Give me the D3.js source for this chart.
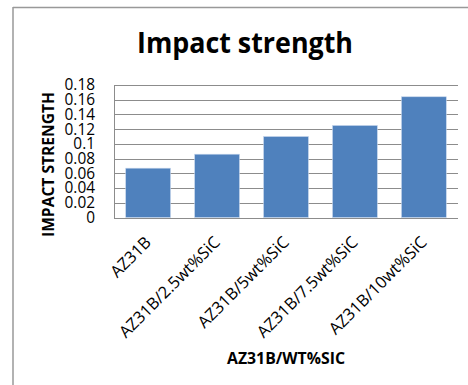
<!DOCTYPE html>
<html>
<head>
<meta charset="utf-8">
<script src="https://cdn.jsdelivr.net/npm/d3@7/dist/d3.min.js"></script>
<style>
  html, body { margin: 0; padding: 0; background: #fff; }
  svg { display: block; }
  text { font-family: "Open Sans", "Noto Sans", sans-serif; fill: #000; }
</style>
</head>
<body>
<svg id="chart" width="468" height="385"></svg>
<script>
// Impact strength per composition
const categories = ["AZ31B", "AZ31B/2.5wt%SiC", "AZ31B/5wt%SiC", "AZ31B/7.5wt%SiC", "AZ31B/10wt%SiC"];
const impactValues = [0.067, 0.086, 0.110, 0.125, 0.164];
const yTicks = [0, 0.02, 0.04, 0.06, 0.08, 0.1, 0.12, 0.14, 0.16, 0.18];
const yTickLabels = ["0", "0.02", "0.04", "0.06", "0.08", "0.1", "0.12", "0.14", "0.16", "0.18"];

const svg = d3.select("#chart");

// chart frame (top and left edges)
svg.append("line").attr("x1", 13).attr("x2", 468).attr("y1", 7.5).attr("y2", 7.5)
  .attr("stroke", "#999").attr("stroke-width", 1.5);
svg.append("line").attr("x1", 13).attr("x2", 13).attr("y1", 7).attr("y2", 385)
  .attr("stroke", "#999").attr("stroke-width", 1.5);

const plot = { left: 114, right: 458, top: 85, bottom: 217.5 };

const x = d3.scaleBand()
  .domain(categories)
  .range([plot.left, plot.right])
  .paddingInner(0.35)
  .paddingOuter(0.17);

const y = d3.scaleLinear()
  .domain([0, 0.18])
  .range([plot.bottom, plot.top]);

// horizontal gridlines
svg.append("g")
  .selectAll("line")
  .data(yTicks)
  .join("line")
  .attr("x1", plot.left).attr("x2", plot.right)
  .attr("y1", d => Math.round(y(d)) + 0.5).attr("y2", d => Math.round(y(d)) + 0.5)
  .attr("stroke", "#8c8c8c").attr("stroke-width", 1);

// vertical axis line
svg.append("line")
  .attr("x1", plot.left + 0.5).attr("x2", plot.left + 0.5)
  .attr("y1", Math.round(y(0.18)) + 0.5).attr("y2", Math.round(y(0)) + 0.5)
  .attr("stroke", "#8c8c8c");

// y tick labels
const yAxis = d3.axisLeft(y)
  .tickValues(yTicks)
  .tickFormat((d, i) => yTickLabels[i])
  .tickSize(0)
  .tickPadding(0);
const yg = svg.append("g").attr("transform", `translate(95,0)`).call(yAxis);
yg.select(".domain").remove();
yg.selectAll("text")
  .style("font-family", '"Open Sans", sans-serif')
  .style("font-size", "15.4px")
  .attr("fill", "#000");

// bars
svg.append("g")
  .selectAll("rect")
  .data(impactValues)
  .join("rect")
  .attr("x", (d, i) => x(categories[i]))
  .attr("width", x.bandwidth())
  .attr("y", d => y(d))
  .attr("height", d => y(0) - y(d))
  .attr("fill", "#4f81bd")
  .attr("stroke", "#c6d6ec")
  .attr("stroke-width", 0.6);

// x category labels, rotated
const xAxis = d3.axisBottom(x).tickSize(0).tickPadding(0);
const xg = svg.append("g").attr("transform", `translate(0,${plot.bottom})`).call(xAxis);
xg.select(".domain").remove();
xg.selectAll("text")
  .style("font-family", '"Open Sans", sans-serif')
  .style("font-size", "16.5px")
  .attr("fill", "#000")
  .attr("text-anchor", "end")
  .attr("y", 0).attr("dy", 0)
  .attr("transform", "translate(4,26) rotate(-45)");

// title
svg.append("text")
  .attr("x", 245).attr("y", 53)
  .attr("text-anchor", "middle")
  .attr("font-weight", "bold")
  .attr("font-size", 28)
  .attr("textLength", 216)
  .attr("lengthAdjust", "spacingAndGlyphs")
  .text("Impact strength");

// y axis title
svg.append("text")
  .attr("transform", "translate(54,164.5) rotate(-90)")
  .attr("text-anchor", "middle")
  .attr("font-weight", "bold")
  .attr("font-size", 16.4)
  .attr("textLength", 145)
  .attr("lengthAdjust", "spacingAndGlyphs")
  .text("IMPACT STRENGTH");

// x axis title
svg.append("text")
  .attr("x", 286).attr("y", 364)
  .attr("text-anchor", "middle")
  .attr("font-weight", "bold")
  .attr("font-size", 16.4)
  .attr("textLength", 118)
  .attr("lengthAdjust", "spacingAndGlyphs")
  .text("AZ31B/WT%SIC");
</script>
</body>
</html>
